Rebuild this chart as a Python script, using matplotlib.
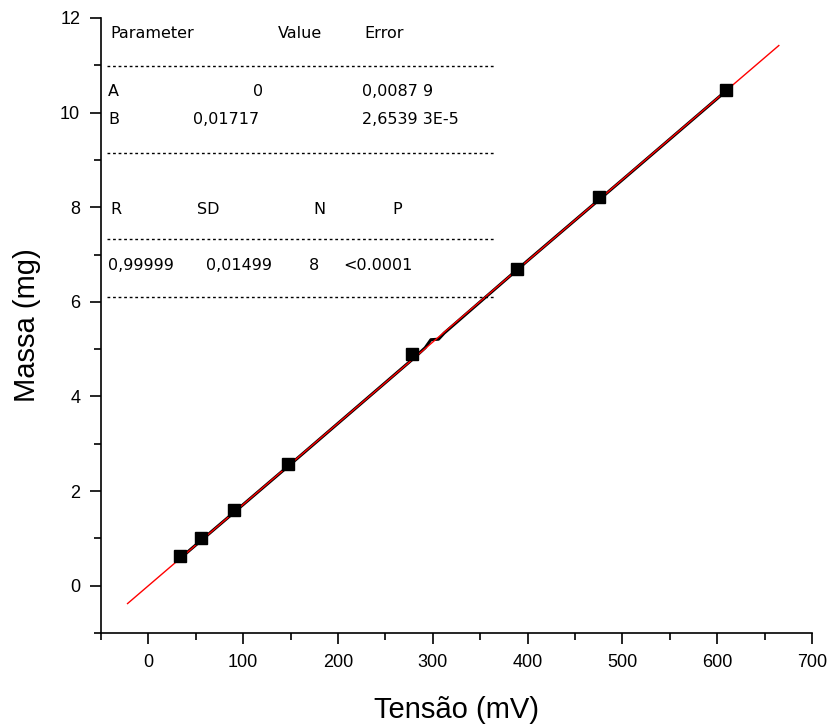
import matplotlib
matplotlib.use("Agg")
import matplotlib.pyplot as plt
from matplotlib.lines import Line2D
from matplotlib.ticker import MultipleLocator
import numpy as np

# measured points
tensao = [33.5, 55.2, 90.8, 146.8, 277.7, 388.9, 475.5, 609.2]
massa = [0.63, 1.01, 1.60, 2.58, 4.90, 6.69, 8.22, 10.48]

# continuous black trace under the fit
trace_x = [33, 150, 280, 292, 298, 306, 312, 400, 500, 610]
trace_y = [0.57, 2.57, 4.81, 5.03, 5.20, 5.21, 5.34, 6.87, 8.58, 10.47]

# linear fit results (shown in the table)
fit_A = 0.0
fit_B = 0.01717
fit_range = [-22, 665]

table_head = ["Parameter", "Value", "Error"]
table_rows = [["A", "0", "0,0087 9"], ["B", "0,01717", "2,6539 3E-5"]]
stat_head = ["R", "SD", "N", "P"]
stat_vals = ["0,99999", "0,01499", "8", "<0.0001"]

W, H = 829, 725
fig = plt.figure(figsize=(W / 100, H / 100), dpi=100)
ax = fig.add_axes([101 / W, 1 - 633 / H, (812 - 101) / W, (633 - 18) / H])

ax.plot(trace_x, trace_y, color="black", lw=2.2, zorder=2)
ax.plot(tensao, massa, "s", color="black", ms=8, zorder=4)
xf = np.array(fit_range)
ax.plot(xf, fit_A + fit_B * xf, color="red", lw=1.0, zorder=3)

ax.set_xlim(-50, 700)
ax.set_ylim(-1, 12)
ax.xaxis.set_major_locator(MultipleLocator(100))
ax.xaxis.set_minor_locator(MultipleLocator(50))
ax.yaxis.set_major_locator(MultipleLocator(2))
ax.yaxis.set_minor_locator(MultipleLocator(1))
for s in ["top", "right"]:
    ax.spines[s].set_visible(False)
for s in ["left", "bottom"]:
    ax.spines[s].set_linewidth(1.2)
ax.tick_params(which="major", direction="out", length=8, width=1.2, pad=7)
ax.tick_params(which="minor", direction="out", length=5, width=1.2)
for lab in ax.get_xticklabels() + ax.get_yticklabels():
    lab.set_fontfamily("Liberation Sans")
    lab.set_fontsize(13)
ax.set_xlabel("Tensão (mV)", fontsize=21, family="Liberation Sans", labelpad=18)
ax.set_ylabel("Massa (mg)", fontsize=21, family="Liberation Sans", labelpad=14)


def fx(x):
    return x / W


def fy(y):
    return 1 - y / H


def txt(x, y, s):
    fig.text(fx(x), fy(y), s, ha="left", va="center", fontsize=11.5,
             family="DejaVu Sans")


def dots(y):
    fig.add_artist(Line2D([fx(107), fx(494)], [fy(y), fy(y)], color="black",
                          lw=1.0, linestyle=(0, (2, 2))))


for x, s in zip([110, 278, 364], table_head):
    txt(x, 33, s)
dots(66)
txt(108, 92, table_rows[0][0])
txt(253, 92, table_rows[0][1])
txt(362, 92, table_rows[0][2])
txt(108, 120, table_rows[1][0])
txt(193, 120, table_rows[1][1])
txt(362, 120, table_rows[1][2])
dots(153)
for x, s in zip([110, 197, 313, 392], stat_head):
    txt(x, 210, s)
dots(239)
for x, s in zip([108, 206, 309, 343], stat_vals):
    txt(x, 266, s)
dots(297)

fig.savefig("out.png", dpi=100)
